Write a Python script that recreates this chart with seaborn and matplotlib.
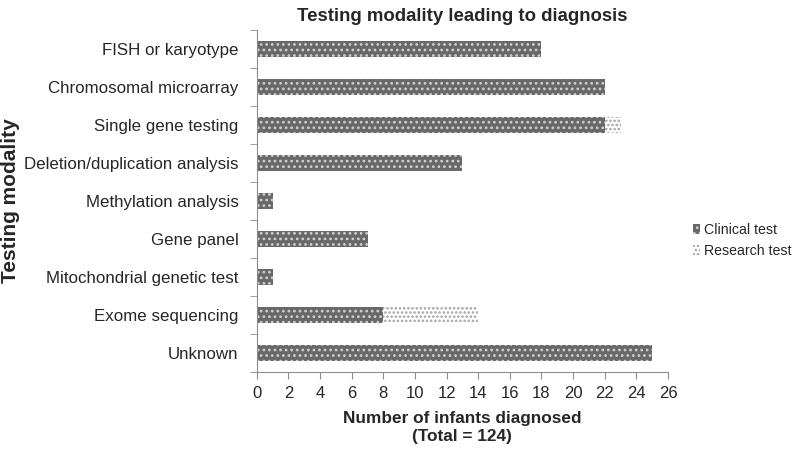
import numpy as np
import pandas as pd
import seaborn as sns
import matplotlib.pyplot as plt

sns.set_style("white")
plt.rcParams['font.family'] = ['Liberation Sans', 'DejaVu Sans']
plt.rcParams['hatch.linewidth'] = 1.2

# Data
modalities = ["FISH or karyotype", "Chromosomal microarray", "Single gene testing",
              "Deletion/duplication analysis", "Methylation analysis", "Gene panel",
              "Mitochondrial genetic test", "Exome sequencing", "Unknown"]
clinical = [18, 22, 22, 13, 1, 7, 1, 8, 25]
research = [0, 0, 1, 0, 0, 0, 0, 6, 0]

df = pd.DataFrame({"Modality": modalities, "Clinical": clinical, "Research": research})
df["Total"] = df["Clinical"] + df["Research"]

fig, ax = plt.subplots(figsize=(8, 4.54), dpi=100)
fig.subplots_adjust(left=0.321, right=0.835, top=0.935, bottom=0.18)

# research part: draw full total with light dotted fill, then clinical on top
sns.barplot(data=df, y="Modality", x="Total", orient="h", ax=ax, width=0.42,
            color="white", edgecolor="#a0a0a0", linewidth=0, hatch="....",
            label="Research test")
sns.barplot(data=df, y="Modality", x="Clinical", orient="h", ax=ax, width=0.42,
            color="#686868", edgecolor="#cfcfcf", linewidth=0, hatch="...",
            label="Clinical test", saturation=1)

ax.set_xlim(0, 26)
ax.set_xticks(np.arange(0, 27, 2))
ax.set_ylim(len(modalities) - 0.5, -0.5)

# Excel-like tick marks between categories
ax.tick_params(axis="y", which="major", length=0, labelsize=12.2, pad=13)
ax.set_yticks(np.arange(-0.5, len(modalities), 1), minor=True)
ax.tick_params(axis="y", which="minor", length=5, color="#8c8c8c", direction="out")
ax.tick_params(axis="x", length=5, color="#8c8c8c", direction="out", labelsize=12, pad=5)
ax.xaxis.set_ticks_position("bottom")
ax.yaxis.set_ticks_position("left")

for side in ["top", "right"]:
    ax.spines[side].set_visible(False)
for side in ["left", "bottom"]:
    ax.spines[side].set_color("#8c8c8c")

ax.set_title("Testing modality leading to diagnosis", fontsize=13.4, fontweight="bold", pad=6)
ax.set_xlabel("Number of infants diagnosed\n(Total = 124)", fontsize=12.4, fontweight="bold",
              labelpad=7, linespacing=1.3)
ax.set_ylabel("Testing modality", fontsize=15, fontweight="bold")
ax.yaxis.set_label_coords(-0.576, 0.5)

handles, labels = ax.get_legend_handles_labels()
ax.legend(handles[::-1], labels[::-1], loc="center left", bbox_to_anchor=(1.03, 0.385),
          frameon=False, fontsize=10.2, handlelength=0.5, handleheight=0.7,
          handletextpad=0.3, labelspacing=0.5)

plt.savefig("out.png", dpi=100)
plt.close()
